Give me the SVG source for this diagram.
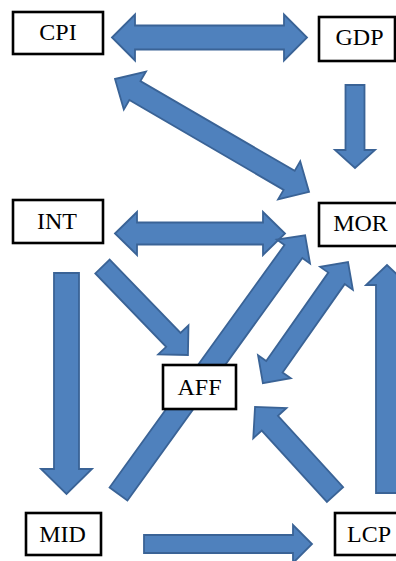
<svg xmlns="http://www.w3.org/2000/svg" width="396" height="561" viewBox="0 0 396 561">
<style>
.a{fill:#4F81BD;stroke:#3A6396;stroke-width:1.8;stroke-linejoin:miter}
.b{fill:#fff;stroke:#000;stroke-width:2.6}
.t{font-family:"Liberation Serif","Times New Roman",serif;font-size:24px;fill:#000;text-anchor:middle}
</style>
<rect width="396" height="561" fill="#fff"/>
<g id="connectors">
  <!-- CPI <-> GDP -->
  <path class="a" transform="translate(112,37.5)" d="M0,0 L23,-23 L23,-12 L172,-12 L172,-23 L195,0 L172,23 L172,12 L23,12 L23,23 Z"/>
  <!-- GDP -> MOR -->
  <path class="a" transform="translate(355,85) rotate(90)" d="M0,-9.5 L65,-9.5 L65,-20 L83,0 L65,20 L65,9.5 L0,9.5 Z"/>
  <!-- CPI <-> MOR -->
  <path class="a" transform="translate(115,79) rotate(30.2)" d="M0,0 L23,-22 L23,-11 L201.5,-11 L201.5,-22 L224.5,0 L201.5,22 L201.5,11 L23,11 L23,22 Z"/>
  <!-- INT <-> MOR -->
  <path class="a" transform="translate(115,233.5)" d="M0,0 L22,-21.5 L22,-11 L148,-11 L148,-21.5 L170,0 L148,21.5 L148,11 L22,11 L22,21.5 Z"/>
  <!-- INT -> MID -->
  <path class="a" transform="translate(66.5,273) rotate(90)" d="M0,-12.5 L196,-12.5 L196,-25.5 L221,0 L196,25.5 L196,12.5 L0,12.5 Z"/>
  <!-- INT -> AFF -->
  <path class="a" transform="translate(102.5,266.5) rotate(46)" d="M0,-10 L102,-10 L102,-21 L123,0 L102,21 L102,10 L0,10 Z"/>
  <!-- MID -> MOR -->
  <path class="a" transform="translate(118.5,494) rotate(-54.2)" d="M0,-11 L299,-11 L299,-20.5 L319,0 L299,20.5 L299,11 L0,11 Z"/>
  <!-- MOR <-> AFF -->
  <path class="a" transform="translate(348,262) rotate(125.1)" d="M0,0 L20,-20 L20,-10 L128,-10 L128,-20 L148,0 L128,20 L128,10 L20,10 L20,20 Z"/>
  <!-- LCP -> MOR -->
  <path class="a" transform="translate(387,493) rotate(-90)" d="M0,-11 L208,-11 L208,-21 L228,0 L208,21 L208,11 L0,11 Z"/>
  <!-- LCP -> AFF -->
  <path class="a" transform="translate(335,494.5) rotate(-132.4)" d="M0,-11 L96.6,-11 L96.6,-22.5 L118.6,0 L96.6,22.5 L96.6,11 L0,11 Z"/>
  <!-- MID -> LCP -->
  <path class="a" transform="translate(144,544)" d="M0,-9 L149,-9 L149,-19 L168,0 L149,19 L149,9 L0,9 Z"/>
</g>
<g id="CPI"><rect class="b" x="13" y="12" width="90" height="42"/><text class="t" x="58" y="40">CPI</text></g>
<g id="GDP"><rect class="b" x="319" y="17" width="76" height="44"/><text class="t" x="359.5" y="45">GDP</text></g>
<g id="INT"><rect class="b" x="13" y="200" width="90" height="43"/><text class="t" x="57" y="228.5">INT</text></g>
<g id="MOR"><rect class="b" x="319" y="203" width="82" height="43"/><text class="t" x="360.5" y="231">MOR</text></g>
<g id="AFF"><rect class="b" x="163" y="365" width="73" height="44"/><text class="t" x="199.5" y="394.5">AFF</text></g>
<g id="MID"><rect class="b" x="26" y="513" width="75" height="42"/><text class="t" x="62.5" y="542">MID</text></g>
<g id="LCP"><rect class="b" x="335" y="513" width="80" height="42"/><text class="t" x="369" y="542">LCP</text></g>
</svg>
